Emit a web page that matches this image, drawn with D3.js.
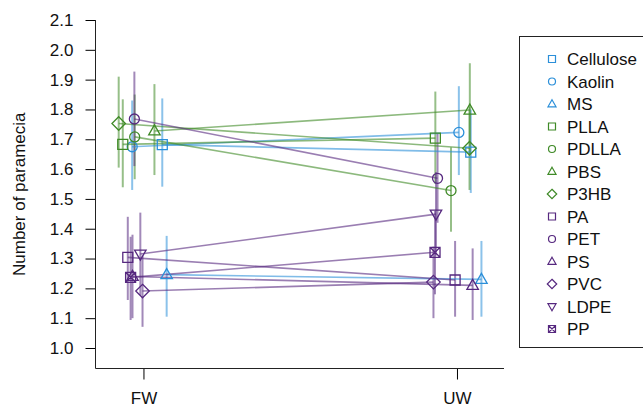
<!DOCTYPE html>
<html>
<head>
<meta charset="utf-8">
<script src="https://cdn.jsdelivr.net/npm/d3@7"></script>
<style>
  body { margin: 0; background: #fff; }
  svg { display: block; font-family: 'Liberation Sans', Arial, sans-serif; }
</style>
</head>
<body>
<div id="chart"></div>
<script>
// data
var groups = ['FW', 'UW']
var series = ['Cellulose', 'Kaolin', 'MS', 'PLLA', 'PDLLA', 'PBS', 'P3HB',
              'PA', 'PET', 'PS', 'PVC', 'LDPE', 'PP']
var family = ['blue', 'blue', 'blue', 'green', 'green', 'green', 'green',
              'purple', 'purple', 'purple', 'purple', 'purple', 'purple']
var shape = ['square', 'circle', 'triangle', 'square', 'circle', 'triangle', 'diamond',
             'square', 'circle', 'triangle', 'diamond', 'down', 'crossSquare']
var meanFW = [1.682, 1.675, 1.246, 1.683, 1.708, 1.728, 1.753,
              1.304, 1.768, 1.240, 1.191, 1.315, 1.237]
var meanUW = [1.657, 1.723, 1.230, 1.704, 1.528, 1.798, 1.670,
              1.228, 1.569, 1.210, 1.221, 1.449, 1.321]
var lowFW = [1.541, 1.530, 1.105, 1.539, 1.566, 1.580, 1.605,
             1.161, 1.610, 1.100, 1.071, 1.178, 1.094]
var highFW = [1.837, 1.830, 1.376, 1.834, 1.850, 1.885, 1.910,
              1.440, 1.927, 1.380, 1.310, 1.454, 1.373]
var lowUW = [1.520, 1.580, 1.105, 1.550, 1.390, 1.650, 1.530,
             1.105, 1.420, 1.094, 1.100, 1.310, 1.180]
var highUW = [1.800, 1.878, 1.359, 1.860, 1.673, 1.955, 1.810,
              1.359, 1.720, 1.334, 1.340, 1.590, 1.460]
// horizontal jitter of each series, in group units
var jitterFW = [0.060, -0.036, 0.074, -0.066, -0.028, 0.035, -0.079,
                -0.050, -0.029, -0.035, -0.003, -0.010, -0.041]
var jitterUW = [0.044, 0.006, 0.078, -0.069, -0.019, 0.041, 0.040,
                -0.006, -0.062, 0.050, -0.075, -0.067, -0.070]
var yTicks = [1.0, 1.1, 1.2, 1.3, 1.4, 1.5, 1.6, 1.7, 1.8, 1.9, 2.0, 2.1]

var colors = { blue: '#2b8fd9', green: '#3f8a27', purple: '#56287f' }

var width = 643, height = 407
var svg = d3.select('#chart').append('svg')
    .attr('width', width)
    .attr('height', height)

// scales (group FW = 1, UW = 2)
var xScale = d3.scaleLinear().domain([0.847, 2.15]).range([95.5, 504])
var yScale = d3.scaleLinear().domain([1.0, 2.1]).range([348, 20])
var yBottom = 368.5

// symbol paths, s = half size
function symbolPath(type, s) {
  var t = s * 1.15
  switch (type) {
    case 'square':
    case 'crossSquare':
      var p = 'M' + -s + ',' + -s + 'H' + s + 'V' + s + 'H' + -s + 'Z'
      if (type == 'crossSquare') p += 'M' + -s + ',' + -s + 'L' + s + ',' + s + 'M' + s + ',' + -s + 'L' + -s + ',' + s
      return p
    case 'circle':
      return 'M' + s + ',0A' + s + ',' + s + ' 0 1,1 ' + -s + ',0A' + s + ',' + s + ' 0 1,1 ' + s + ',0Z'
    case 'triangle':
      return 'M0,' + (-t * 1.05) + 'L' + t + ',' + (t * 0.7) + 'L' + -t + ',' + (t * 0.7) + 'Z'
    case 'down':
      return 'M0,' + (t * 1.05) + 'L' + t + ',' + (-t * 0.7) + 'L' + -t + ',' + (-t * 0.7) + 'Z'
    case 'diamond':
      var d = s * 1.35
      return 'M0,' + -d + 'L' + d + ',0L0,' + d + 'L' + -d + ',0Z'
  }
}

var rows = series.map(function (name, i) {
  return {
    name: name, color: colors[family[i]], shape: shape[i],
    pts: [
      { x: 1 + jitterFW[i], y: meanFW[i], lo: lowFW[i], hi: highFW[i] },
      { x: 2 + jitterUW[i], y: meanUW[i], lo: lowUW[i], hi: highUW[i] }
    ]
  }
})

// Y-axis
var yAxis = d3.axisLeft(yScale)
    .tickValues(yTicks)
    .tickFormat(d3.format('.1f'))
    .tickSizeInner(10)
    .tickSizeOuter(0)
    .tickPadding(12)
var gy = svg.append('g')
    .attr('transform', 'translate(' + xScale.range()[0] + ',0)')
    .call(yAxis)
gy.select('.domain').remove()
gy.selectAll('text').style('font-size', '17px').attr('fill', '#111')
gy.append('line')
    .attr('x1', 0).attr('x2', 0)
    .attr('y1', yScale(2.1)).attr('y2', yBottom)
    .attr('stroke', '#222')

// X-axis
var xAxis = d3.axisBottom(xScale)
    .tickValues([1, 2])
    .tickFormat(function (d) { return groups[d - 1] })
    .tickSizeInner(11)
    .tickSizeOuter(0)
    .tickPadding(12)
var gx = svg.append('g')
    .attr('transform', 'translate(0,' + yBottom + ')')
    .call(xAxis)
gx.select('.domain').remove()
gx.selectAll('text').style('font-size', '17px').attr('fill', '#111')
gx.append('line')
    .attr('x1', xScale.range()[0]).attr('x2', xScale.range()[1])
    .attr('y1', 0).attr('y2', 0)
    .attr('stroke', '#222')

// y-axis label
svg.append('text')
    .attr('transform', 'translate(25,' + ((20 + yBottom) / 2) + ') rotate(-90)')
    .attr('text-anchor', 'middle')
    .style('font-size', '17px')
    .attr('fill', '#111')
    .text('Number of paramecia')

var plot = svg.append('g')

// error bars
rows.forEach(function (r) {
  plot.selectAll(null)
      .data(r.pts)
      .enter()
    .append('line')
      .attr('x1', function (d) { return xScale(d.x) })
      .attr('x2', function (d) { return xScale(d.x) })
      .attr('y1', function (d) { return yScale(d.lo) })
      .attr('y2', function (d) { return yScale(d.hi) })
      .attr('stroke', r.color)
      .attr('stroke-opacity', 0.55)
      .attr('stroke-width', 2)
})

// connecting lines
var line = d3.line()
    .x(function (d) { return xScale(d.x) })
    .y(function (d) { return yScale(d.y) })
rows.forEach(function (r) {
  plot.append('path')
      .attr('d', line(r.pts))
      .attr('fill', 'none')
      .attr('stroke', r.color)
      .attr('stroke-opacity', 0.6)
      .attr('stroke-width', 1.6)
})

// points
rows.forEach(function (r) {
  plot.selectAll(null)
      .data(r.pts)
      .enter()
    .append('path')
      .attr('transform', function (d) { return 'translate(' + xScale(d.x) + ',' + yScale(d.y) + ')' })
      .attr('d', symbolPath(r.shape, 5))
      .attr('fill', 'none')
      .attr('stroke', r.color)
      .attr('stroke-width', 1.3)
})

// legend
var legend = svg.append('g')
legend.append('rect')
    .attr('x', 519.5).attr('y', 36.5)
    .attr('width', 140).attr('height', 311)
    .attr('fill', 'none')
    .attr('stroke', '#222')
var items = legend.selectAll('g.item')
    .data(rows)
    .enter()
  .append('g')
    .attr('class', 'item')
    .attr('transform', function (d, i) { return 'translate(552,' + (59 + i * 22.5) + ')' })
items.append('path')
    .attr('d', function (d) { return symbolPath(d.shape, 3.5) })
    .attr('fill', 'none')
    .attr('stroke', function (d) { return d.color })
    .attr('stroke-width', 1.2)
items.append('text')
    .attr('x', 15)
    .attr('dy', '0.36em')
    .style('font-size', '17px')
    .attr('fill', '#111')
    .text(function (d) { return d.name })
</script>
</body>
</html>
